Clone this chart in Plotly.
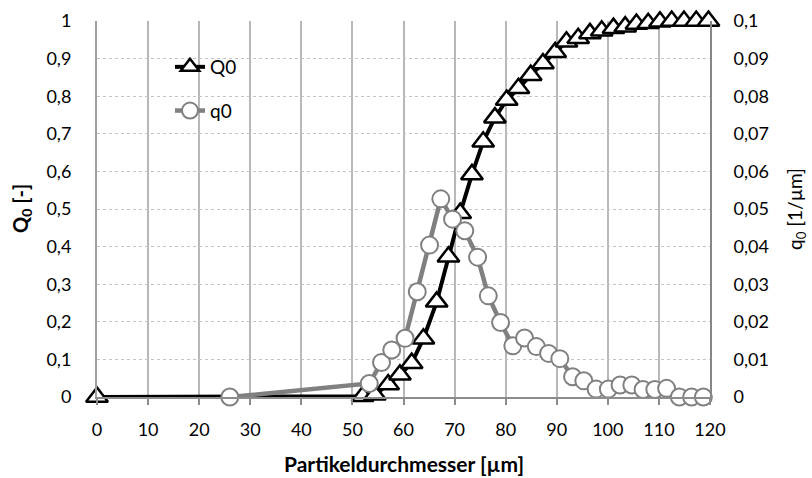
import plotly.graph_objects as go

# ---- data ----
Q0_x = [0, 52.0, 54.4, 57.0, 59.3, 61.6, 63.9, 66.5, 68.8, 71.1, 73.4, 75.6, 77.9, 80.2,
        82.5, 84.9, 87.3, 89.7, 91.9, 94.2, 96.5, 98.8, 101.1, 103.4, 105.6, 107.9,
        110.2, 112.5, 114.9, 117.3, 119.7]
Q0_y = [0, 0.002, 0.006, 0.033, 0.059, 0.09, 0.155, 0.253, 0.373, 0.489, 0.592, 0.679,
        0.743, 0.79, 0.821, 0.856, 0.887, 0.917, 0.945, 0.954, 0.967, 0.974, 0.981,
        0.985, 0.992, 0.994, 0.998, 1.0, 1.0, 1.0, 1.0]

q0_x = [26.0, 53.3, 55.7, 57.7, 60.3, 62.7, 65.1, 67.3, 69.6, 72.0, 74.5, 76.6, 79.0,
        81.4, 83.7, 86.0, 88.4, 90.6, 93.1, 95.3, 97.7, 100.1, 102.4, 104.7, 106.9,
        109.2, 111.5, 114.0, 116.4, 118.7]
q0_y = [0, 0.0036, 0.0092, 0.0125, 0.0156, 0.028, 0.0404, 0.0527, 0.0473, 0.0442,
        0.0372, 0.0269, 0.0198, 0.0136, 0.0157, 0.0134, 0.0116, 0.0102, 0.0054, 0.0043,
        0.0021, 0.0021, 0.0032, 0.0032, 0.002, 0.002, 0.0023, 0.0, 0.0, 0.0]

x_ticks = [0, 10, 20, 30, 40, 50, 60, 70, 80, 90, 100, 110, 120]
yl_ticks = [0, 0.1, 0.2, 0.3, 0.4, 0.5, 0.6, 0.7, 0.8, 0.9, 1.0]
yl_labels = ["0", "0,1", "0,2", "0,3", "0,4", "0,5", "0,6", "0,7", "0,8", "0,9", "1"]
yr_ticks = [0, 0.01, 0.02, 0.03, 0.04, 0.05, 0.06, 0.07, 0.08, 0.09, 0.1]
yr_labels = ["0", "0,01", "0,02", "0,03", "0,04", "0,05", "0,06", "0,07", "0,08", "0,09", "0,1"]

FONT = "Lato"
fig = go.Figure()

fig.add_trace(go.Scatter(
    x=Q0_x, y=Q0_y, name="Q0", mode="lines+markers", legendgroup="a",
    line=dict(color="black", width=4),
    marker=dict(symbol="triangle-up", size=19, color="white",
                line=dict(color="black", width=2.5)),
    cliponaxis=False,
))
fig.add_trace(go.Scatter(
    x=q0_x, y=q0_y, name="q0", mode="lines+markers", legendgroup="b", yaxis="y2",
    line=dict(color="#808080", width=4.5),
    marker=dict(symbol="circle", size=17, color="white",
                line=dict(color="#808080", width=2)),
    cliponaxis=False,
))

W, H = 812, 478
L, R, T, B = 97, 102, 21, 81
pw, ph = W - L - R, H - T - B

def px_x(p):
    return (p - L) / pw

def px_y(p):
    return (H - B - p) / ph

fig.update_layout(
    width=W, height=H,
    margin=dict(l=L, r=R, t=T, b=B, autoexpand=False),
    paper_bgcolor="white", plot_bgcolor="white",
    font=dict(family=FONT, size=18, color="black"),
    showlegend=True,
    legend=dict(
        x=px_x(170), y=px_y(48), xanchor="left", yanchor="top",
        bgcolor="rgba(0,0,0,0)", borderwidth=0,
        traceorder="grouped", tracegroupgap=16,
        font=dict(family=FONT, size=19, color="black"),
    ),
    xaxis=dict(
        range=[0, 120], tickvals=x_ticks, showgrid=True,
        gridcolor="#b8b8b8", gridwidth=2,
        showline=True, linecolor="#8c8c8c", linewidth=2,
        ticks="outside", ticklen=6, tickcolor="#8c8c8c", tickwidth=1.5,
        ticklabelstandoff=9, zeroline=False,
        tickfont=dict(family=FONT, size=18),
    ),
    yaxis=dict(
        range=[0, 1], tickvals=yl_ticks, ticktext=yl_labels,
        showgrid=True, gridcolor="#c4c4c4", gridwidth=1, griddash="dot",
        showline=True, linecolor="#a0a0a0", linewidth=2,
        ticks="", ticklabelstandoff=20, zeroline=False,
        tickfont=dict(family=FONT, size=18),
    ),
    yaxis2=dict(
        range=[0, 0.1], tickvals=yr_ticks, ticktext=yr_labels,
        overlaying="y", side="right", showgrid=False,
        showline=True, linecolor="#868686", linewidth=2,
        ticks="", ticklabelstandoff=18, zeroline=False,
        tickfont=dict(family=FONT, size=18),
    ),
    shapes=[dict(type="rect", xref="paper", yref="paper",
                 x0=px_x(125), x1=px_x(270), y0=px_y(133), y1=px_y(45),
                 fillcolor="white", line=dict(width=0), layer="between")],
    annotations=[
        dict(text="<b>Q<sub>0</sub> [-]</b>", xref="paper", yref="paper",
             x=px_x(21), y=0.5, textangle=-90, showarrow=False,
             xanchor="center", yanchor="middle", font=dict(family=FONT, size=20)),
        dict(text="q<sub>0</sub> [1/µm]", xref="paper", yref="paper",
             x=px_x(796), y=0.5, textangle=-90, showarrow=False,
             xanchor="center", yanchor="middle", font=dict(family=FONT, size=19)),
        dict(text="<b>Partikeldurchmesser [µm]</b>", xref="paper", yref="paper",
             x=0.5, y=px_y(464), showarrow=False,
             xanchor="center", yanchor="middle", font=dict(family=FONT, size=21)),
    ],
)

fig.write_html("out.html")
